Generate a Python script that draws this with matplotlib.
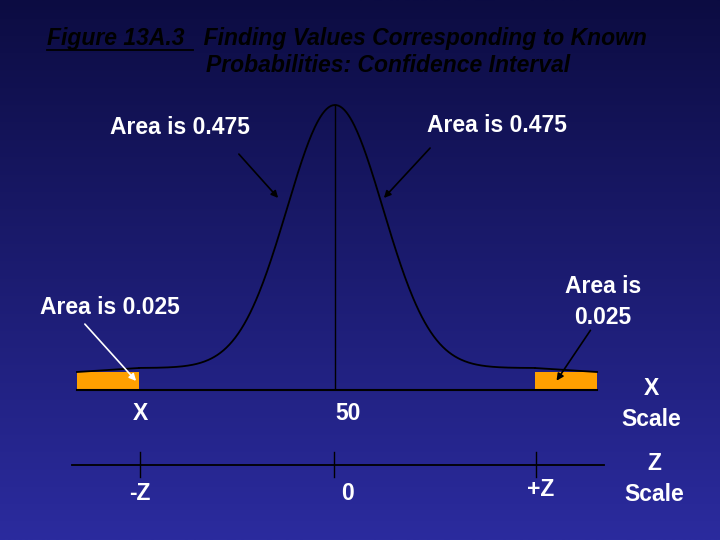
import numpy as np
import matplotlib.pyplot as plt
from matplotlib.patches import Rectangle
from matplotlib.colors import LinearSegmentedColormap

# diagram values (pixel space of the slide)
x_labels = ["X", "50"]
z_labels = ["-Z", "0", "+Z"]
tick_pos = [140, 334, 536]
tail_area = "Area is 0.025"
mid_area = "Area is 0.475"

fig = plt.figure(figsize=(7.2, 5.4), dpi=100)
ax = fig.add_axes([0, 0, 1, 1])
ax.set_xlim(0, 720)
ax.set_ylim(540, 0)
ax.axis('off')

# gradient background
grad = np.linspace(0, 1, 256).reshape(-1, 1)
cmap = LinearSegmentedColormap.from_list('bg', ['#0c0c42', '#2b2b9e'])
ax.imshow(grad, extent=[0, 720, 540, 0], cmap=cmap, aspect='auto', zorder=0)

font = dict(family='Liberation Sans', fontweight='bold', color='white', fontsize=16.5)

# title
tfont = {**font, 'color': 'black', 'fontsize': 16.5}
ax.text(47, 38, "Figure 13A.3   Finding Values Corresponding to Known", style='italic',
        va='center', ha='left', **tfont)
ax.text(206, 66, "Probabilities: Confidence Interval", style='italic',
        va='center', ha='left', **tfont)
ax.plot([47, 193], [50, 50], color='black', lw=1.3)

# tail rectangles and base line
ax.add_patch(Rectangle((77, 372), 62, 18, facecolor='#ffa000', edgecolor='none', zorder=2))
ax.add_patch(Rectangle((535, 372), 62, 18, facecolor='#ffa000', edgecolor='none', zorder=2))
ax.plot([77, 597], [390, 390], color='black', lw=1.5, zorder=3)
ax.plot([335, 335], [105, 388], color='black', lw=1, zorder=3)

# bell curve
xs = np.linspace(139, 535, 400)
ys = 368 - 263 * np.exp(-0.5 * ((xs - 335) / 48) ** 2)
ax.plot(xs, ys, color='black', lw=1.3, zorder=3)
ax.plot([77, 139], [372, 368], color='black', lw=1.3, zorder=3)
ax.plot([535, 597], [368, 372], color='black', lw=1.3, zorder=3)

# area labels and arrows
ax.text(180, 128, mid_area, ha='center', va='center', **font)
ax.text(497, 126, mid_area, ha='center', va='center', **font)
ax.text(110, 307, tail_area, ha='center', va='center', **font)
ax.text(603, 302, "Area is\n0.025", ha='center', va='center', linespacing=1.45, **font)
arw = dict(arrowstyle='-|>', lw=1.2, mutation_scale=10)
ax.annotate('', xy=(280, 200), xytext=(237, 152), arrowprops={**arw, 'color': 'black'})
ax.annotate('', xy=(382, 200), xytext=(432, 146), arrowprops={**arw, 'color': 'black'})
ax.annotate('', xy=(138, 383), xytext=(83, 322), arrowprops={**arw, 'color': 'white'})
ax.annotate('', xy=(555, 383), xytext=(592, 328), arrowprops={**arw, 'color': 'black'})

# x scale
ax.text(tick_pos[0], 413, x_labels[0], ha='center', va='center', **font)
ax.text(348, 413, x_labels[1], ha='center', va='center', **font)
ax.text(651, 404, "X\nScale", ha='center', va='center', linespacing=1.45, **font)

# z scale
ax.plot([72, 604], [465, 465], color='black', lw=1.3)
for tp in tick_pos:
    ax.plot([tp, tp], [452, 477], color='black', lw=1)
for tp, lab in zip([140, 348, 541], z_labels):
    ax.text(tp, 493 if lab != "+Z" else 490, lab, ha='center', va='center', **font)
ax.text(654, 479, "Z\nScale", ha='center', va='center', linespacing=1.45, **font)

fig.savefig('out.png', dpi=100)
